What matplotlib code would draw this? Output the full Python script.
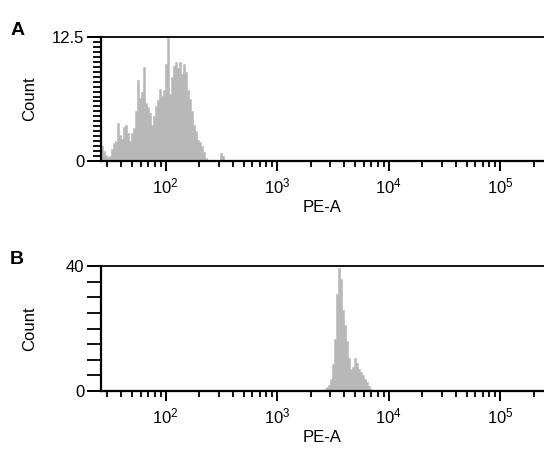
import numpy as np
import matplotlib
matplotlib.use("Agg")
import matplotlib.pyplot as plt
from matplotlib.ticker import LogLocator, FixedLocator, NullFormatter, FixedFormatter, MultipleLocator

plt.rcParams['font.family'] = ['Liberation Sans', 'DejaVu Sans']
plt.rcParams['mathtext.fontset'] = 'custom'
plt.rcParams['mathtext.rm'] = 'Liberation Sans'
plt.rcParams['mathtext.it'] = 'Liberation Sans:italic'

# ---- data ----
bins_per_decade = 56          # log-binned histogram channels
x_range = (26.3, 2.47e5)      # PE-A axis range

# Panel A: first bin lower edge and counts per channel
a_start = 26.3
a_counts = [1.5, 1.0, 0.6, 0.4, 0.5, 1.2, 1.8, 2.0, 3.8, 2.6,
            2.2, 3.4, 3.6, 2.8, 2.0, 2.8, 3.3, 5.0, 8.2, 6.4,
            7.0, 9.5, 5.8, 5.4, 4.8, 3.6, 4.5, 5.5, 6.1, 7.3,
            6.6, 7.2, 9.8, 12.4, 6.8, 8.5, 9.6, 10.0, 9.4, 10.0,
            8.8, 9.8, 9.0, 7.2, 6.2, 5.0, 3.6, 3.0, 2.1, 1.9,
            1.5, 0.9, 0.3, 0.0, 0.0, 0.0, 0.0, 0.0, 0.0, 0.0,
            0.8, 0.5, 0.0]
a_ylim = 12.5

# Panel B
b_start = 2522
b_counts = [0.2, 0.5, 1.2, 2.0, 4.0, 8.5, 16.5, 31.0, 39.5, 36.0,
            26.0, 21.0, 16.0, 10.5, 7.0, 7.8, 10.5, 9.0, 7.0, 6.0,
            5.0, 4.0, 3.0, 1.6, 0.5, 0.0]
b_ylim = 40

panels = ["A", "B"]
xlabel = "PE-A"
ylabel = "Count"

# ---- figure ----
fig = plt.figure(figsize=(5.44, 4.5), dpi=100)
W, H = 544, 450

def make_ax(top_px, bot_px):
    left = 101 / W
    right = 1.0
    return fig.add_axes([left, 1 - bot_px / H, right - left, (bot_px - top_px) / H])

axA = make_ax(37, 161)
axB = make_ax(266, 391)

gray = '#b8b8b8'

def draw(ax, start, counts, ymax, ystep_minor, tag, major_len_y, minor_len_y):
    n = len(counts)
    edges = start * 10 ** (np.arange(n + 1) / bins_per_decade)
    vals = np.append(counts, counts[-1])
    ax.fill_between(edges, 0, vals, step='post', color=gray, linewidth=0.4,
                    edgecolor=gray)
    ax.set_xscale('log')
    ax.set_xlim(*x_range)
    ax.set_ylim(0, ymax)
    ax.spines['right'].set_visible(False)
    ax.spines['left'].set_linewidth(1.6)
    ax.spines['bottom'].set_linewidth(1.6)
    ax.spines['top'].set_linewidth(1.3)
    ax.xaxis.set_major_locator(LogLocator(base=10, numticks=10))
    ax.xaxis.set_minor_locator(LogLocator(base=10, subs=np.arange(2, 10), numticks=20))
    ax.xaxis.set_minor_formatter(NullFormatter())
    ax.tick_params(axis='x', which='major', direction='out', length=7, width=1.4,
                   labelsize=12, pad=4, colors='black')
    ax.tick_params(axis='x', which='minor', direction='out', length=4, width=1.3)
    ax.yaxis.set_major_locator(FixedLocator([0, ymax]))
    ax.yaxis.set_major_formatter(FixedFormatter(['0', ('%g' % ymax)]))
    ax.yaxis.set_minor_locator(MultipleLocator(ystep_minor))
    ax.tick_params(axis='y', which='major', direction='out', length=major_len_y, width=1.4,
                   labelsize=12, pad=2)
    ax.tick_params(axis='y', which='minor', direction='out', length=minor_len_y, width=1.3)
    ax.set_xlabel(xlabel, fontsize=12, labelpad=3)
    ax.set_ylabel(ylabel, fontsize=12)
    ax.yaxis.set_label_coords((37 - 101) / 443, 0.5)
    ax.text(-0.205, 1.05, tag, transform=ax.transAxes, fontsize=14, fontweight='bold',
            ha='left', va='center')

draw(axA, a_start, a_counts, a_ylim, 0.5, panels[0], 10, 6)
draw(axB, b_start, b_counts, b_ylim, 5, panels[1], 10, 10)

fig.savefig("out.png", dpi=100)
